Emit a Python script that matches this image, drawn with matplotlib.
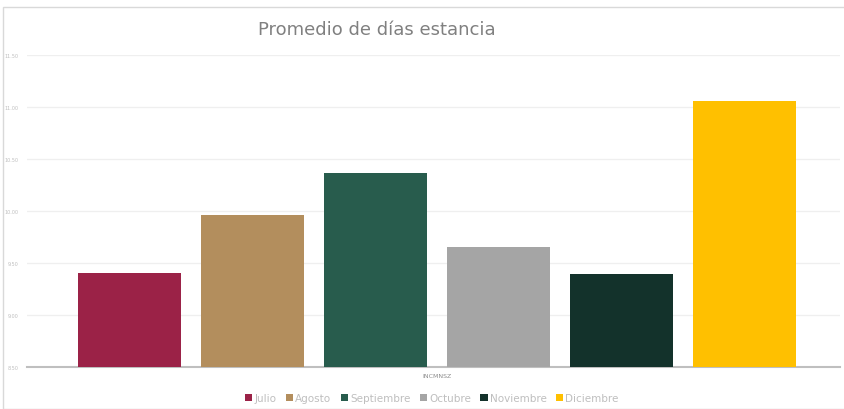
import numpy as np
import matplotlib.pyplot as plt
from matplotlib.patches import Rectangle, Patch

# Datos
meses = ['Julio', 'Agosto', 'Septiembre', 'Octubre', 'Noviembre', 'Diciembre']
promedio = [9.40, 9.96, 10.37, 9.65, 9.39, 11.06]
colores = ['#9B2247', '#B38E5D', '#285C4D', '#A5A5A5', '#13322B', '#FFC000']
yticks = [8.5, 9.0, 9.5, 10.0, 10.5, 11.0, 11.5]
categoria = 'INCMNSZ'

fig = plt.figure(figsize=(8.45, 4.10), dpi=100)
fig.patches.append(Rectangle((3 / 845, 0.0), 842 / 845, 402 / 410, transform=fig.transFigure,
                             fill=False, edgecolor='#d9d9d9', linewidth=1.0))

ax = fig.add_axes([27 / 845, 42 / 410, 813 / 845, 312 / 410])
x = np.arange(len(meses))
ax.bar(x, np.array(promedio) - 8.5, bottom=8.5, width=0.837, color=colores, zorder=3)

ax.set_ylim(8.5, 11.5)
ax.set_xlim(-0.833, 5.78)
ax.set_yticks(yticks)
ax.set_yticklabels([f'{v:.2f}' for v in yticks], fontsize=3.5, color='#bfbfbf')
ax.tick_params(axis='y', length=0, pad=6)
ax.grid(axis='y', color='#efefef', linewidth=0.9, zorder=0)
ax.set_xticks([np.mean(x)])
ax.set_xticklabels([categoria], fontsize=4.5, color='#8c8c8c')
ax.tick_params(axis='x', length=0, pad=4)
for s in ['top', 'right', 'left']:
    ax.spines[s].set_visible(False)
ax.spines['bottom'].set_color('#bfbfbf')
ax.spines['bottom'].set_linewidth(1.5)

fig.text(377 / 845, 1 - 30 / 410, 'Promedio de días estancia', ha='center', va='center',
         fontsize=13, color='#808080')

handles = [Patch(facecolor=c, label=m) for m, c in zip(meses, colores)]
leg = fig.legend(handles=handles, loc='center', bbox_to_anchor=(432 / 845, 1 - 399 / 410),
                 ncol=6, frameon=False, fontsize=7.5, handlelength=0.7, handleheight=0.7,
                 handletextpad=0.2, columnspacing=0.9)
for t in leg.get_texts():
    t.set_color('#bfbfbf')

fig.savefig('out.png', dpi=100)
